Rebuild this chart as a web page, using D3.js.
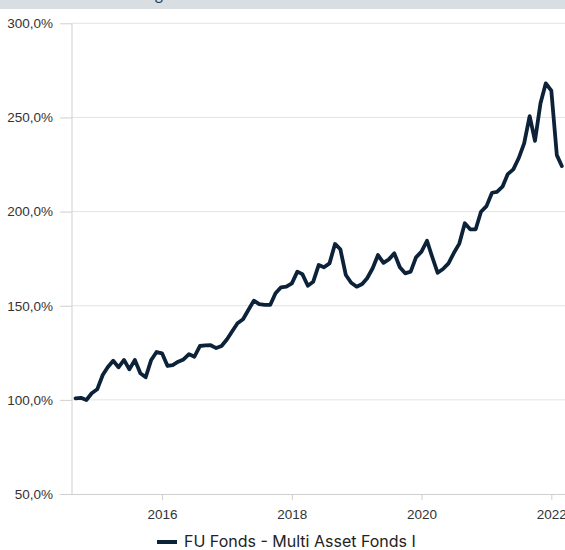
<!DOCTYPE html>
<html>
<head>
<meta charset="utf-8">
<title>FU Fonds - Multi Asset Fonds I</title>
<script src="https://cdn.jsdelivr.net/npm/d3@7"></script>
<style>
  html, body { margin: 0; padding: 0; background: #fff; }
  svg { display: block; font-family: Lato, "Open Sans", sans-serif; }
</style>
</head>
<body>
<div id="chart"></div>
<script>
// data: monthly performance values (%), Sep 2014 .. Mar 2022
var firstMonth = "2014-09";
var lastMonth = "2022-03";
var fundName = "FU Fonds - Multi Asset Fonds I";
var fundValues = [
  100.8, 101.1, 99.9, 103.5, 105.6, 113.2, 117.3, 120.8, 117.3, 121.2,
  116.2, 121.2, 114.1, 112.0, 121.2, 125.4, 124.7, 118.0, 118.5, 120.3,
  121.5, 124.3, 122.9, 128.6, 128.9, 129.0, 127.5, 128.6, 132.2, 136.7,
  140.7, 142.8, 147.7, 152.7, 150.9, 150.5, 150.4, 156.6, 159.8, 160.1,
  161.9, 168.1, 166.8, 160.6, 162.7, 171.6, 170.4, 172.5, 182.8, 180.0,
  166.3, 162.2, 160.1, 161.5, 164.6, 169.9, 176.9, 172.8, 174.6, 177.8,
  170.4, 167.2, 168.1, 175.7, 178.7, 184.5, 176.0, 167.5, 169.5, 172.5,
  178.0, 183.0, 193.8, 190.6, 190.6, 199.9, 202.9, 210.0, 210.5, 213.2,
  219.9, 222.4, 228.3, 236.2, 250.7, 237.6, 257.5, 268.1, 264.2, 230.0,
  224.2
];
var yTicks = [50, 100, 150, 200, 250, 300];
var xTickYears = [2016, 2018, 2020, 2022];

var W = 565, H = 550;
var parseMonth = d3.timeParse("%Y-%m");
var months = d3.timeMonth.range(parseMonth(firstMonth), d3.timeMonth.offset(parseMonth(lastMonth), 1));
var data = months.map(function (d, i) { return {date: d, value: fundValues[i]}; });

var de = d3.formatLocale({decimal: ",", thousands: ".", grouping: [3], currency: ["", " €"]});
var fmt = de.format(".1f");

var svg = d3.select("#chart").append("svg").attr("width", W).attr("height", H);

// header band, its title sits above the visible area (only the descender shows)
svg.append("rect").attr("x", 0).attr("y", 0).attr("width", W).attr("height", 9).attr("fill", "#d9dee2");
svg.append("text").attr("x", 163).attr("y", -0.5).attr("text-anchor", "end")
  .style("font-size", "16px").style("fill", "#2b3a4a").text("Wertentwicklung");

var x = d3.scaleTime()
  .domain([new Date(2014, 7, 12), new Date(2022, 2, 19)])
  .range([72, 565]);
var y = d3.scaleLinear().domain([50, 300]).range([494, 23.3]);

// grid
svg.append("g").selectAll("line").data(yTicks.slice(1)).enter().append("line")
  .attr("x1", 72).attr("x2", W)
  .attr("y1", function (d) { return y(d); }).attr("y2", function (d) { return y(d); })
  .attr("stroke", "#e3e3e3").attr("stroke-width", 1);

// y axis
var yAxis = svg.append("g").attr("transform", "translate(72,0)")
  .call(d3.axisLeft(y).tickValues(yTicks).tickSize(12).tickPadding(7)
    .tickFormat(function (d) { return fmt(d) + "%"; }));
yAxis.select(".domain").remove();
yAxis.append("line").attr("x1", 0).attr("x2", 0).attr("y1", y(300)).attr("y2", y(50))
  .attr("stroke", "#cfcfcf");
yAxis.selectAll(".tick line").attr("stroke", "#cfcfcf");
yAxis.selectAll(".tick text").style("font-size", "13.5px").style("fill", "#333");

// x axis
var xAxis = svg.append("g").attr("transform", "translate(0," + y(50) + ")")
  .call(d3.axisBottom(x).tickValues(xTickYears.map(function (yr) { return new Date(yr, 0, 1); }))
    .tickSize(6).tickPadding(9).tickFormat(d3.timeFormat("%Y")));
xAxis.select(".domain").attr("stroke", "#cfcfcf").attr("d", "M72,0.5H" + W);
xAxis.selectAll(".tick line").attr("stroke", "#cfcfcf");
xAxis.selectAll(".tick text").style("font-size", "13.5px").style("fill", "#333");

// line
var line = d3.line()
  .x(function (d) { return x(d.date); })
  .y(function (d) { return y(d.value); });
svg.append("path").datum(data)
  .attr("d", line)
  .attr("fill", "none")
  .attr("stroke", "#0c2238")
  .attr("stroke-width", 3.8)
  .attr("stroke-linejoin", "round")
  .attr("stroke-linecap", "round");

// legend
var lg = svg.append("g").attr("transform", "translate(157,542)");
lg.append("line").attr("x1", 0).attr("x2", 20).attr("y1", 0).attr("y2", 0)
  .attr("stroke", "#0c2238").attr("stroke-width", 4);
lg.append("text").attr("x", 27).attr("y", 4.5)
  .style("font-family", "Inter, Lato, sans-serif")
  .style("font-size", "16px").style("fill", "#222").text(fundName);
</script>
</body>
</html>
